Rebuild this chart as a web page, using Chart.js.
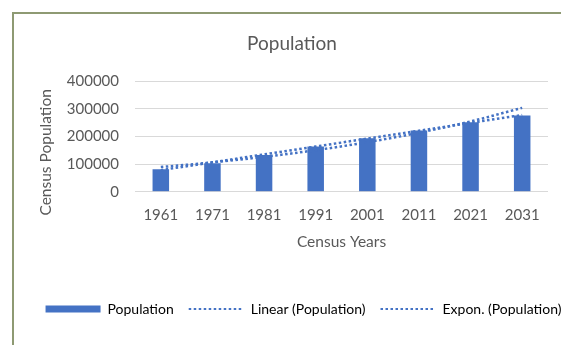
<!DOCTYPE html>
<html>
<head>
<meta charset="utf-8">
<script src="https://cdn.jsdelivr.net/npm/chart.js@4.4.1/dist/chart.umd.min.js"></script>
<style>
  html, body { margin: 0; padding: 0; background: #ffffff; overflow: hidden; width: 561px; height: 345px; }
  #frame {
    position: absolute; left: 12px; top: 12px; width: 620px; height: 360px;
    border-left: 2px solid #8e9a73; border-top: 2px solid #8e9a73;
  }
  #chart { position: absolute; left: 0; top: 0; }
</style>
</head>
<body>
<div id="frame"><canvas id="chart" width="579" height="331"></canvas></div>
<script>
// Census data
const censusYears = ['1961', '1971', '1981', '1991', '2001', '2011', '2021', '2031'];
const population = [81000, 103000, 133000, 163000, 193000, 221000, 251000, 275000];
const linearTrend = [78000, 106000, 135000, 163000, 192000, 220000, 249000, 277000];
const exponTrend = [89000, 106000, 126000, 150000, 179000, 213000, 254000, 303000];
const populationTicks = [0, 100000, 200000, 300000, 400000];
const seriesNames = ['Population', 'Linear (Population)', 'Expon. (Population)'];
const chartTitle = 'Population';
const xAxisTitle = 'Census Years';
const yAxisTitle = 'Census Population';

const BLUE = '#4472C4';
const TEXT = '#595959';
const GRID = '#d9d9d9';
const DOTS = [2.5, 2.5];

Chart.defaults.font.family = 'Lato, "Open Sans", sans-serif';
Chart.defaults.color = TEXT;

// Shifts the chart title sideways and draws the rotated value-axis title,
// centred on the plot together with its category labels.
const frameTitles = {
  id: 'frameTitles',
  afterLayout(chart, args, opts) {
    const t = chart.titleBlock;
    if (t) { t.left += opts.titleShift; t.right += opts.titleShift; }
  },
  afterDraw(chart, args, opts) {
    const { ctx, chartArea, scales } = chart;
    const x = scales.y.left + opts.yTitleX;
    const y = (chartArea.top + chartArea.bottom) / 2 + opts.yTitleDrop;
    ctx.save();
    ctx.translate(x, y);
    ctx.rotate(-Math.PI / 2);
    ctx.font = opts.font;
    ctx.fillStyle = TEXT;
    ctx.textAlign = 'center';
    ctx.textBaseline = 'middle';
    ctx.fillText(opts.text, 0, 0);
    ctx.restore();
  }
};

new Chart(document.getElementById('chart'), {
  type: 'bar',
  data: {
    labels: censusYears,
    datasets: [
      {
        label: seriesNames[0],
        data: population,
        backgroundColor: BLUE,
        borderWidth: 0,
        categoryPercentage: 0.8,
        barPercentage: 0.4,
        order: 1
      },
      {
        type: 'line',
        label: seriesNames[1],
        data: linearTrend,
        borderColor: BLUE,
        borderWidth: 2.5,
        borderDash: DOTS,
        pointRadius: 0,
        fill: false,
        order: 0
      },
      {
        type: 'line',
        label: seriesNames[2],
        data: exponTrend,
        borderColor: BLUE,
        borderWidth: 2.5,
        borderDash: DOTS,
        pointRadius: 0,
        fill: false,
        cubicInterpolationMode: 'monotone',
        order: 0
      }
    ]
  },
  plugins: [frameTitles],
  options: {
    responsive: false,
    animation: false,
    layout: { padding: { left: 0, right: 0, top: 0, bottom: 19 } },
    scales: {
      x: {
        offset: true,
        grid: { display: false, drawTicks: false },
        border: { display: false },
        ticks: { font: { size: 15 }, color: TEXT, padding: 14.3, maxRotation: 0, autoSkip: false },
        title: { display: true, text: xAxisTitle, font: { size: 15.5 }, color: TEXT, padding: { top: 0, bottom: 35.7 } },
        afterFit(s) { s.height = 95.3; }
      },
      y: {
        min: 0,
        max: 400000,
        grid: { color: GRID, lineWidth: 1, drawTicks: false },
        border: { display: false },
        ticks: { font: { size: 15 }, color: TEXT, padding: 16, callback: (v) => String(v) },
        afterBuildTicks(s) { s.ticks = populationTicks.map((v) => ({ value: v })); },
        afterFit(s) { s.width = 121; }
      },
      yPad: {
        type: 'linear',
        position: 'right',
        display: true,
        grid: { display: false, drawTicks: false },
        border: { display: false },
        ticks: { display: false },
        afterFit(s) { s.width = 45; }
      }
    },
    plugins: {
      tooltip: { enabled: false },
      title: {
        display: true,
        text: chartTitle,
        color: TEXT,
        font: { size: 19, weight: 'normal' },
        padding: { top: 18.6, bottom: 25.6 }
      },
      frameTitles: {
        titleShift: -11.5,
        text: yAxisTitle,
        font: '15.5px Lato, "Open Sans", sans-serif',
        yTitleX: 32,
        yTitleDrop: 16
      },
      legend: {
        position: 'bottom',
        labels: {
          usePointStyle: true,
          pointStyleWidth: 55,
          boxHeight: 7,
          padding: 15,
          color: TEXT,
          font: { size: 14 },
          generateLabels: (chart) => chart.data.datasets.map((ds, i) => {
            const isLine = ds.type === 'line';
            return {
              text: ds.label,
              fillStyle: isLine ? 'rgba(0,0,0,0)' : ds.backgroundColor,
              strokeStyle: isLine ? ds.borderColor : ds.backgroundColor,
              lineWidth: isLine ? 2 : 0,
              lineDash: isLine ? DOTS : [],
              pointStyle: isLine ? 'line' : 'rect',
              hidden: false,
              datasetIndex: i
            };
          })
        }
      }
    }
  }
});
</script>
</body>
</html>
